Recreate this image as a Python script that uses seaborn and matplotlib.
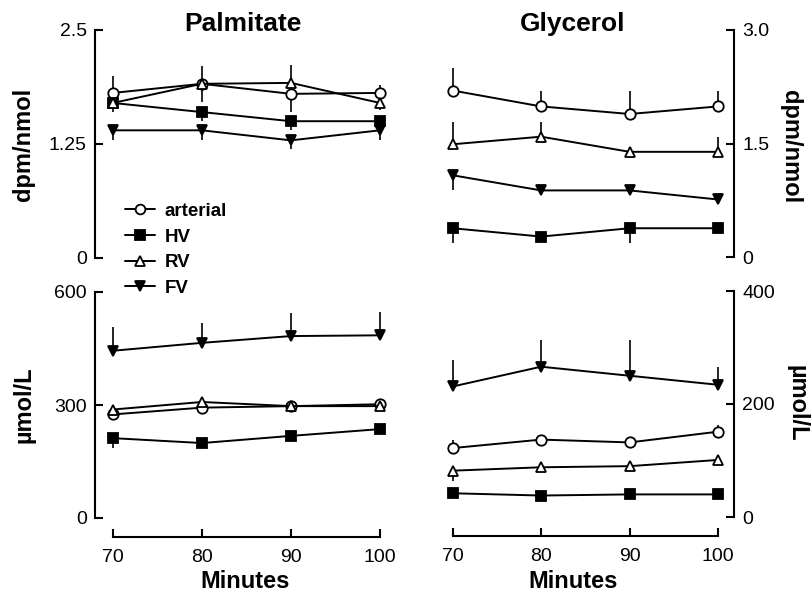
import pandas as pd
import seaborn as sns
import matplotlib.pyplot as plt

minutes = [70, 80, 90, 100]
series = ["arterial", "HV", "RV", "FV"]

# Palmitate specific activity (dpm/nmol)
palm_dpm = {
    "arterial": [1.81, 1.91, 1.80, 1.81],
    "HV": [1.70, 1.60, 1.50, 1.50],
    "RV": [1.70, 1.91, 1.92, 1.70],
    "FV": [1.40, 1.40, 1.29, 1.40],
}
palm_dpm_up = {"arterial": [0.19, 0.20, 0, 0.09], "HV": [0, 0, 0, 0],
               "RV": [0, 0, 0.20, 0], "FV": [0, 0, 0, 0]}
palm_dpm_dn = {"arterial": [0, 0, 0.20, 0], "HV": [0.10, 0.10, 0.10, 0.10],
               "RV": [0, 0.20, 0, 0.08], "FV": [0.11, 0.11, 0.09, 0.11]}

# Glycerol specific activity (dpm/nmol)
glyc_dpm = {
    "arterial": [2.20, 1.99, 1.89, 1.99],
    "HV": [0.38, 0.27, 0.38, 0.38],
    "RV": [1.49, 1.59, 1.39, 1.39],
    "FV": [1.08, 0.88, 0.88, 0.76],
}
glyc_dpm_up = {"arterial": [0.30, 0.21, 0.31, 0.21], "HV": [0, 0, 0, 0],
               "RV": [0.30, 0.20, 0, 0.20], "FV": [0, 0, 0, 0]}
glyc_dpm_dn = {"arterial": [0, 0, 0, 0], "HV": [0.20, 0.05, 0.20, 0.05],
               "RV": [0, 0, 0, 0], "FV": [0.20, 0.05, 0.05, 0.06]}

# Palmitate concentration (umol/L)
palm_conc = {
    "arterial": [275, 293, 297, 302],
    "HV": [212, 199, 218, 236],
    "RV": [288, 308, 297, 297],
    "FV": [444, 465, 483, 485],
}
palm_conc_up = {"arterial": [0, 0, 0, 0], "HV": [0, 0, 0, 0],
                "RV": [10, 10, 10, 10], "FV": [63, 53, 60, 62]}
palm_conc_dn = {"arterial": [8, 8, 12, 8], "HV": [27, 0, 0, 0],
                "RV": [0, 0, 0, 0], "FV": [0, 0, 0, 0]}

# Glycerol concentration (umol/L)
glyc_conc = {
    "arterial": [122, 137, 132, 151],
    "HV": [42, 38, 40, 40],
    "RV": [82, 88, 90, 101],
    "FV": [231, 266, 250, 234],
}
glyc_conc_up = {"arterial": [15, 0, 8, 12], "HV": [0, 0, 0, 0],
                "RV": [0, 0, 0, 0], "FV": [46, 48, 64, 32]}
glyc_conc_dn = {"arterial": [0, 0, 0, 0], "HV": [0, 0, 0, 0],
                "RV": [19, 0, 0, 0], "FV": [0, 0, 0, 0]}

markers = {"arterial": "o", "HV": "s", "RV": "^", "FV": "v"}
faces = {"arterial": "white", "HV": "black", "RV": "white", "FV": "black"}

sns.set_style("ticks", {"axes.edgecolor": "black", "text.color": "black",
                        "xtick.color": "black", "ytick.color": "black"})
plt.rcParams["font.family"] = ["Liberation Sans", "DejaVu Sans"]

W, H = 811, 595
fig = plt.figure(figsize=(W / 100, H / 100), dpi=100)


def rect(x0, x1, ytop, ybot):
    return [x0 / W, (H - ybot) / H, (x1 - x0) / W, (ybot - ytop) / H]


ax_tl = fig.add_axes(rect(95, 396, 30, 258))
ax_tr = fig.add_axes(rect(435, 734, 30, 257))
ax_bl = fig.add_axes(rect(95, 396, 292, 518))
ax_br = fig.add_axes(rect(435, 734, 291, 517))

panels = [
    (ax_tl, palm_dpm, palm_dpm_up, palm_dpm_dn),
    (ax_tr, glyc_dpm, glyc_dpm_up, glyc_dpm_dn),
    (ax_bl, palm_conc, palm_conc_up, palm_conc_dn),
    (ax_br, glyc_conc, glyc_conc_up, glyc_conc_dn),
]

for ax, vals, up, dn in panels:
    for s in series:
        ax.errorbar(minutes, vals[s], yerr=[dn[s], up[s]], fmt="none",
                    ecolor="black", elinewidth=1.2, capsize=0, zorder=2)
        df = pd.DataFrame({"Minutes": minutes, "value": vals[s]})
        sns.lineplot(data=df, x="Minutes", y="value", ax=ax, color="black",
                     linewidth=1.4, marker=markers[s], markersize=7.5,
                     markerfacecolor=faces[s], markeredgecolor="black",
                     markeredgewidth=1.3, label=s, legend=False, zorder=3)
    ax.set_xlim(68, 101.8)
    ax.set_xlabel("")
    ax.set_ylabel("")
    for sp in ax.spines.values():
        sp.set_linewidth(1.5)
        sp.set_color("black")
    ax.tick_params(direction="in", length=6, width=1.5, labelsize=14, pad=6,
                   colors="black")

# top row: no x axis
for ax in (ax_tl, ax_tr):
    ax.spines["bottom"].set_visible(False)
    ax.set_xticks([])

# left column
for ax, lim, ticks, labels in [
    (ax_tl, 2.5, [0, 1.25, 2.5], ["0", "1.25", "2.5"]),
    (ax_bl, 600, [0, 300, 600], ["0", "300", "600"]),
]:
    ax.set_ylim(0, lim)
    ax.spines["right"].set_visible(False)
    ax.spines["top"].set_visible(False)
    ax.spines["left"].set_bounds(0, lim)
    ax.set_yticks(ticks)
    ax.set_yticklabels(labels)

# right column
for ax, lim, ticks, labels in [
    (ax_tr, 3.0, [0, 1.5, 3.0], ["0", "1.5", "3.0"]),
    (ax_br, 400, [0, 200, 400], ["0", "200", "400"]),
]:
    ax.set_ylim(0, lim)
    ax.spines["left"].set_visible(False)
    ax.spines["top"].set_visible(False)
    ax.spines["right"].set_visible(True)
    ax.spines["right"].set_bounds(0, lim)
    ax.yaxis.tick_right()
    ax.set_yticks(ticks)
    ax.set_yticklabels(labels)

# bottom row x axis, detached below
for ax in (ax_bl, ax_br):
    ax.spines["bottom"].set_position(("outward", 14))
    ax.spines["bottom"].set_bounds(70, 100)
    ax.set_xticks(minutes)
    ax.set_xticklabels([str(m) for m in minutes])
    ax.tick_params(axis="x", direction="in", length=6, pad=8)

fig.text(243 / W, 1 - 24 / H, "Palmitate", ha="center", va="center",
         fontsize=19, fontweight="bold")
fig.text(573 / W, 1 - 24 / H, "Glycerol", ha="center", va="center",
         fontsize=19, fontweight="bold")
fig.text(245 / W, 1 - 582 / H, "Minutes", ha="center", va="center",
         fontsize=17, fontweight="bold")
fig.text(573 / W, 1 - 582 / H, "Minutes", ha="center", va="center",
         fontsize=17, fontweight="bold")
fig.text(24 / W, 1 - 144 / H, "dpm/nmol", ha="center", va="center",
         rotation=90, fontsize=17, fontweight="bold")
fig.text(24 / W, 1 - 405 / H, "µmol/L", ha="center", va="center",
         rotation=90, fontsize=17, fontweight="bold")
fig.text(791 / W, 1 - 147 / H, "dpm/nmol", ha="center", va="center",
         rotation=270, fontsize=17, fontweight="bold")
fig.text(797 / W, 1 - 403 / H, "µmol/L", ha="center", va="center",
         rotation=270, fontsize=17, fontweight="bold")

handles, labels = ax_tl.get_legend_handles_labels()
leg = fig.legend(handles, labels, loc="upper left",
                 bbox_to_anchor=(108 / W, 1 - 186 / H), frameon=False,
                 handlelength=1.6, handletextpad=0.5, labelspacing=0.45,
                 prop={"weight": "bold", "size": 13.5})
for h in leg.legend_handles:
    h.set_markersize(7)

fig.savefig("out.png", dpi=100)
